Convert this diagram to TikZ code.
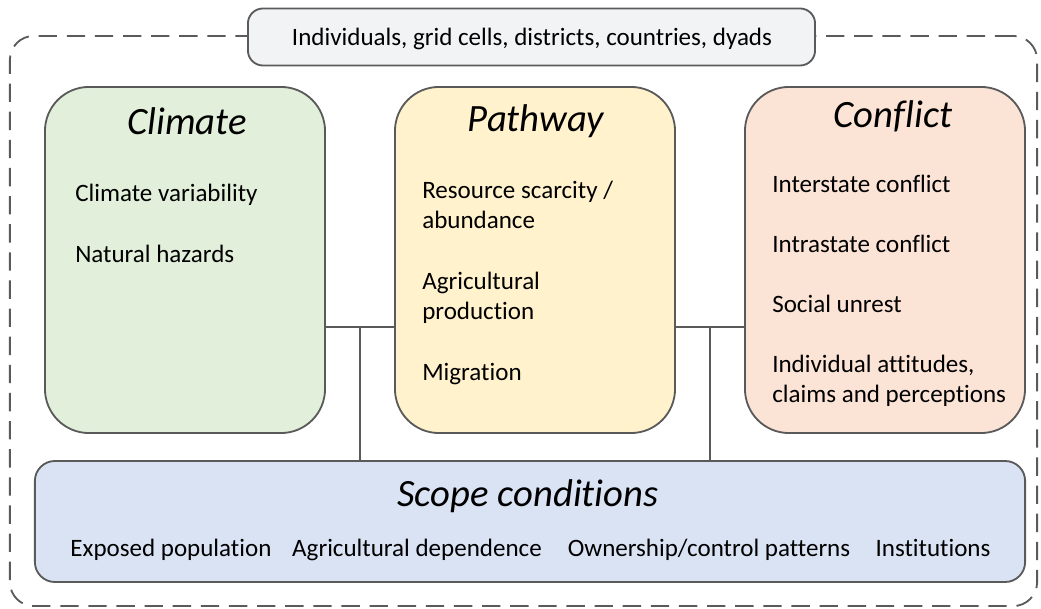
\documentclass[tikz,border=0pt]{standalone}
\usepackage{fontspec}
\setmainfont[Ligatures={NoCommon},RawFeature={-liga;-clig}]{Carlito}
\usetikzlibrary{positioning,calc}

\definecolor{linegray}{HTML}{5A5A5A}
\definecolor{climfill}{HTML}{E2EFDA}
\definecolor{pathfill}{HTML}{FFF2CC}
\definecolor{conffill}{HTML}{FBE3D6}
\definecolor{scopefill}{HTML}{DAE3F3}
\definecolor{unitfill}{HTML}{F2F3F5}

\tikzset{
  framebox/.style={draw=linegray, line width=1.3pt, dash pattern=on 13pt off 7pt,
    rounded corners=0.6cm, minimum width=25.675cm, minimum height=14.25cm},
  unitbox/.style={draw=linegray, fill=unitfill, line width=1.3pt, rounded corners=0.375cm,
    minimum width=14.175cm, minimum height=1.425cm},
  box/.style={draw=linegray, line width=1.3pt, rounded corners=1.1cm,
    minimum width=7cm, minimum height=8.65cm},
  scopebox/.style={draw=linegray, fill=scopefill, line width=1.3pt, rounded corners=0.5cm,
    minimum width=24.75cm, minimum height=3.025cm},
  title/.style={inner sep=0pt, anchor=base, font=\fontsize{27.5}{32}\selectfont\itshape},
  item/.style={inner sep=0pt, anchor=base west, font=\fontsize{17.8}{21.3}\selectfont},
  link/.style={draw=linegray, line width=1.3pt}
}

\begin{document}
\begin{tikzpicture}[x=0.025cm, y=-0.025cm]
  \useasboundingbox (0,0) rectangle (1041,609);

  % outer frame and unit of analysis
  \node[framebox] (frame) at (523.5,321) {};
  \node[unitbox] (units) at (531.5,37) {};
  \node[item, anchor=base] (unitstxt) at (532,46) {Individuals, grid cells, districts, countries, dyads};

  % main boxes
  \node[box, fill=climfill] (climate) at (185,260) {};
  \node[box, fill=pathfill] (pathway) at (535,260) {};
  \node[box, fill=conffill] (conflict) at (885,260) {};
  \node[scopebox] (scope) at (530,521.5) {};

  % connectors
  \coordinate (jl) at (360,327);
  \coordinate (jr) at (710,327);
  \draw[link] (jl -| climate.east) -- (jl -| pathway.west);
  \draw[link] (jl) -- (jl |- scope.north);
  \draw[link] (jr -| pathway.east) -- (jr -| conflict.west);
  \draw[link] (jr) -- (jr |- scope.north);

  % climate
  \node[title] (climate-t) at (187,135) {Climate};
  \node[item] (clim-a) at (75,202) {Climate variability};
  \node[item] (clim-b) at (75,263) {Natural hazards};

  % pathway
  \node[title] (pathway-t) at (536,132) {Pathway};
  \node[item] (path-a) at (422,199) {Resource scarcity /};
  \node[item] (path-a2) at (422,229) {abundance};
  \node[item] (path-b) at (422,290) {Agricultural};
  \node[item] (path-b2) at (422,320) {production};
  \node[item] (path-c) at (422,381) {Migration};

  % conflict
  \node[title] (conflict-t) at (893,128) {Conflict};
  \node[item] (conf-a) at (772,193) {Interstate conflict};
  \node[item] (conf-b) at (772,253) {Intrastate conflict};
  \node[item] (conf-c) at (772,313) {Social unrest};
  \node[item] (conf-d) at (772,373) {Individual attitudes,};
  \node[item] (conf-d2) at (772,403) {claims and perceptions};

  % scope conditions
  \node[title] (scope-t) at (528,507) {Scope conditions};
  \node[item, anchor=base] (scope-a) at (171,557) {Exposed population};
  \node[item, anchor=base] (scope-b) at (417,557) {Agricultural dependence};
  \node[item, anchor=base] (scope-c) at (709,557) {Ownership/control patterns};
  \node[item, anchor=base] (scope-d) at (933,557) {Institutions};
\end{tikzpicture}
\end{document}
